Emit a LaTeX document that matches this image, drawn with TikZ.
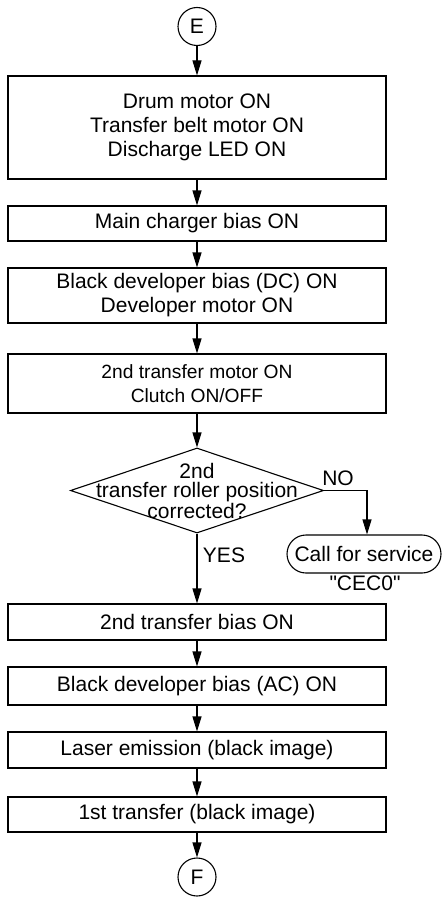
\documentclass[tikz,border=0pt]{standalone}
\usepackage{fontspec}
\setmainfont{Liberation Sans}
\newfontfamily\plainquotes{Liberation Sans}
\usetikzlibrary{arrows.meta,shapes.geometric,shapes.misc}
\begin{document}
\begin{tikzpicture}[x=1pt,y=-1pt,
  every node/.style={font=\fontsize{21}{24}\selectfont},
  line width=1.1pt,
  box/.style={draw, rectangle, minimum width=378pt, inner sep=0pt, align=center},
  conn/.style={draw, circle, minimum size=38pt, inner sep=0pt},
  decbox/.style={draw, diamond, minimum width=253pt, minimum height=85pt, inner sep=0pt},
  stadium/.style={draw, rounded rectangle, minimum width=154pt, minimum height=38pt, inner sep=0pt},
  flow/.style={-{Triangle[length=15pt,width=9pt]}},
  lbl/.style={inner sep=0pt}
]
\useasboundingbox (0,0) rectangle (443,899);
\node[conn] (E) at (197,26.5) {E};
\node[box, minimum height=103pt] (b1) at (197,127.5) {Drum motor ON\\Transfer belt motor ON\\Discharge LED ON};
\node[box, minimum height=35pt] (b2) at (197,223.5) {Main charger bias ON};
\node[box, minimum height=55pt] (b3) at (197,295.5) {Black developer bias (DC) ON\\Developer motor ON};
\node[box, minimum height=59pt, font=\fontsize{19.2}{24}\selectfont] (b4) at (197,383.5) {\raisebox{-3pt}{\parbox{300pt}{\centering 2nd transfer motor ON\\Clutch ON/OFF}}};
\node[decbox] (dec) at (197,490.5) {};
\node[lbl, align=center, font=\fontsize{21}{18.8}\selectfont] (dectext) at (197,491) {2nd\\transfer roller position\\corrected?};
\coordinate (turn) at (367,490.5);
\node[stadium] (call) at (364,554) {Call for service};
\node[lbl, font=\fontsize{21}{24}\plainquotes] (cec) at (365,583) {"CEC0"};
\node[lbl] (no) at (338,478) {NO};
\node[lbl] (yes) at (224,555) {YES};
\node[box, minimum height=36pt] (b5) at (197,622) {2nd transfer bias ON};
\node[box, minimum height=38pt] (b6) at (197,686) {Black developer bias (AC) ON};
\node[box, minimum height=36pt] (b7) at (197,750) {Laser emission (black image)};
\node[box, minimum height=35pt] (b8) at (197,814.5) {1st transfer (black image)};
\node[conn] (F) at (197,877) {F};
\draw[flow] (E) -- (b1);
\draw[flow] (b1) -- (b2);
\draw[flow] (b2) -- (b3);
\draw[flow] (b3) -- (b4);
\draw[flow] (b4) -- (dec);
\draw[flow] (dec.east) -- (turn) -- (turn |- call.north);
\draw[flow] (dec.south) -- (b5);
\draw[flow] (b5) -- (b6);
\draw[flow] (b6) -- (b7);
\draw[flow] (b7) -- (b8);
\draw[flow] (b8) -- (F);
\end{tikzpicture}
\end{document}
